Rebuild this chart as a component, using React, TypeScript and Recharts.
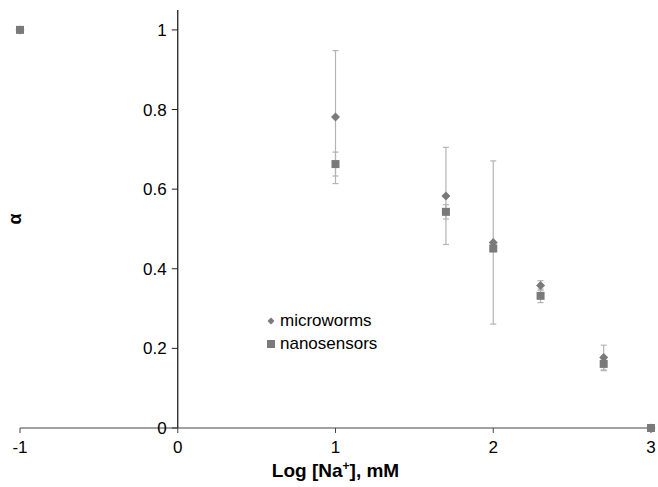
import React from 'react';
import { ScatterChart, Scatter, XAxis, YAxis, ErrorBar, ReferenceLine, Legend, Label } from 'recharts';

const logNa = [-1, 1, 1.7, 2, 2.3, 2.7, 3];
const microworms = [1, 0.781, 0.583, 0.466, 0.358, 0.177, 0];
const microwormsErr = [0, 0.167, 0.122, 0.205, 0.012, 0.031, 0];
const nanosensors = [1, 0.663, 0.543, 0.451, 0.332, 0.161, 0];
const nanosensorsErr = [0, 0.03, 0.018, 0.008, 0.017, 0.017, 0];
const xTicks = [-1, 0, 1, 2, 3];
const yTicks = [0, 0.2, 0.4, 0.6, 0.8, 1];
const yTickLabels = ['0', '0.2', '0.4', '0.6', '0.8', '1'];

const mwData = logNa.map((x, i) => ({ x, y: microworms[i], err: microwormsErr[i] }));
const nsData = logNa.map((x, i) => ({ x, y: nanosensors[i], err: nanosensorsErr[i] }));

const FONT = '"Liberation Sans", Arial, Helvetica, sans-serif';
const MARK = '#7a7a7a';
const ERR = '#b4b4b4';

const Diamond = (p: any) => {
  const { cx, cy } = p;
  const r = 4.5;
  return <polygon points={`${cx},${cy - r} ${cx + r},${cy} ${cx},${cy + r} ${cx - r},${cy}`} fill={MARK} />;
};
const Square = (p: any) => {
  const { cx, cy } = p;
  const s = 8;
  return <rect x={cx - s / 2} y={cy - s / 2} width={s} height={s} fill={MARK} />;
};

const LegendContent = () => (
  <div style={{ fontFamily: FONT, fontSize: 17, color: '#000', lineHeight: '23px' }}>
    <div style={{ display: 'flex', alignItems: 'center', height: 23 }}>
      <svg width={10} height={10} style={{ marginRight: 4 }}>
        <polygon points="5,1.5 8.5,5 5,8.5 1.5,5" fill={MARK} />
      </svg>
      microworms
    </div>
    <div style={{ display: 'flex', alignItems: 'center', height: 23 }}>
      <svg width={10} height={10} style={{ marginRight: 4 }}>
        <rect x={1} y={1} width={8} height={8} fill={MARK} />
      </svg>
      nanosensors
    </div>
  </div>
);

const XLabel = (props: any) => {
  const vb = props.viewBox;
  const cx = vb.x + vb.width / 2;
  return (
    <text x={cx} y={vb.y + 49} textAnchor="middle" fontFamily={FONT} fontSize={19} fontWeight="bold" fill="#000">
      Log [Na<tspan dy={-7} fontSize={12}>+</tspan><tspan dy={7}>], mM</tspan>
    </text>
  );
};

const YLabel = (props: any) => {
  const vb = props.viewBox;
  const cx = vb.x + vb.width / 2 + 1;
  const cy = vb.y + vb.height / 2;
  return (
    <text x={cx} y={cy} textAnchor="middle" dominantBaseline="central" transform={`rotate(-90 ${cx} ${cy})`} fontFamily={FONT} fontSize={18} fontWeight="bold" fill="#000">
      α
    </text>
  );
};

export default function App() {
  return (
    <div style={{ position: 'fixed', left: 0, top: 0, width: 658, height: 487, background: '#fff' }}>
      <ScatterChart width={658} height={487} margin={{ top: 10, right: 7, bottom: 0, left: 8 }}>
        <XAxis
          dataKey="x"
          type="number"
          domain={[-1, 3]}
          ticks={xTicks}
          height={59}
          tickSize={5}
          tickMargin={8}
          stroke="#444"
          tick={{ fill: '#000', fontSize: 17, fontFamily: FONT }}
        >
          <Label content={XLabel} />
        </XAxis>
        <YAxis dataKey="y" type="number" domain={[0, 1.05]} width={12} tick={false} axisLine={false} tickLine={false}>
          <Label content={YLabel} />
        </YAxis>
        <ReferenceLine x={0} stroke="#222" strokeWidth={1.3} />
        {yTicks.map((v, i) => (
          <ReferenceLine
            key={v}
            segment={[{ x: -0.038, y: v }, { x: 0, y: v }]}
            stroke="#222"
            label={{ value: yTickLabels[i], position: 'left', offset: 5, fill: '#000', fontSize: 17, fontFamily: FONT }}
          />
        ))}
        <Scatter name="microworms" data={mwData} shape={Diamond} isAnimationActive={false}>
          <ErrorBar dataKey="err" direction="y" width={3} stroke={ERR} strokeWidth={1.2} />
        </Scatter>
        <Scatter name="nanosensors" data={nsData} shape={Square} isAnimationActive={false}>
          <ErrorBar dataKey="err" direction="y" width={3} stroke={ERR} strokeWidth={1.2} />
        </Scatter>
        <Legend
          layout="vertical"
          align="center"
          verticalAlign="middle"
          content={LegendContent}
          wrapperStyle={{ left: 266, top: 309, width: 160, height: 46 }}
        />
      </ScatterChart>
    </div>
  );
}
